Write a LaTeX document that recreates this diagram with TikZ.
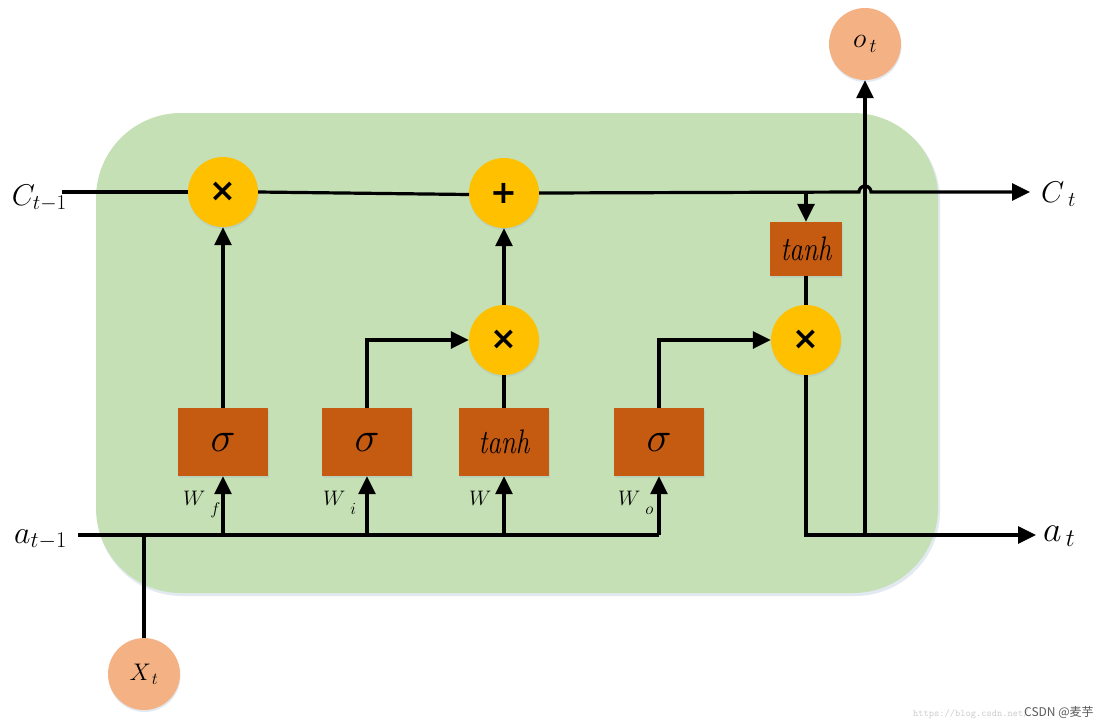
\RequirePackage{fix-cm}
\documentclass[tikz,border=0pt]{standalone}
\usepackage{fontspec}
\usepackage{graphicx}
\usetikzlibrary{arrows.meta,shadows,calc}
\newfontfamily\djv{DejaVu Sans}
\newfontfamily\cjkf{Noto Sans CJK SC}
\definecolor{cellgreen}{HTML}{C5E0B4}
\definecolor{gateyellow}{HTML}{FFC000}
\definecolor{boxorange}{HTML}{C55A11}
\definecolor{ioorange}{HTML}{F4B183}
\definecolor{shadowblue}{HTML}{9FB6CD}
\newcommand{\fs}[1]{\fontsize{#1}{#1}\selectfont}
\newcommand{\tanhtxt}{\scalebox{0.8}[1]{\fs{34}\itshape tanh}}
\newcommand{\wlab}[1]{\fs{21}$W$\hspace{5pt}\raisebox{-9pt}{\fs{17}$#1$}}
\begin{document}
\begin{tikzpicture}[x=1pt,y=-1pt,
  softshadow/.style={drop shadow={shadow xshift=0.5pt,shadow yshift=-2pt,opacity=0.3,fill=shadowblue}},
  op/.style={circle,fill=gateyellow,minimum size=70pt,inner sep=0pt,softshadow,font=\djv\bfseries\fs{32}},
  act/.style={rectangle,fill=boxorange,minimum width=90pt,minimum height=68pt,inner sep=0pt,softshadow},
  io/.style={circle,fill=ioorange,minimum size=72pt,inner sep=0pt,softshadow},
  wire/.style={line width=3.2pt,black},
  arr/.style={wire,-{Triangle[length=18pt,width=17pt]}},
  lbl/.style={inner sep=0pt},
]
\useasboundingbox (0,0) rectangle (1107,724);
% cell background
\fill[shadowblue,opacity=0.3,rounded corners=85pt] (97,115) rectangle (940,596);
\fill[cellgreen,rounded corners=85pt] (96,113) rectangle (938,593);

% operators
\node[op] (f) at (223,192) {×};
\node[op] (plus) at (504,193) {+};
\node[op] (im) at (504,340) {×};
\node[op] (om) at (806,340) {×};

% activation boxes
\node[act] (sf) at (223,442) {\fs{42}$\sigma$};
\node[act] (si) at (367,442) {\fs{42}$\sigma$};
\node[act] (tg) at (504,442) {\tanhtxt};
\node[act] (so) at (659,442) {\fs{42}$\sigma$};
\node[act,minimum width=72pt,minimum height=54pt] (tc) at (806,249) {\tanhtxt};

% inputs / outputs
\node[io] (o) at (865,44) {\fs{28}$o_{\,t}$};
\node[io] (x) at (144,674) {\fs{24}$X_{\,t}$};

% side labels
\node[lbl,anchor=base east] (clab) at (67,205) {\fs{30}$C_{t-1}$};
\node[lbl,anchor=base west] (ctlab) at (1041,202) {\fs{30}$C_{\;t}$};
\node[lbl,anchor=base east] (alab) at (67,543) {\fs{32}$a_{t-1}$};
\node[lbl,anchor=base west] (atlab) at (1043,541) {\fs{36}$a_{\,t}$};

% weight labels
\node[lbl,anchor=base west] (wf) at (183,505) {\wlab{f}};
\node[lbl,anchor=base west] (wi) at (323,505) {\wlab{i}};
\node[lbl,anchor=base west] (ww) at (469,505) {\fs{21}$W$};
\node[lbl,anchor=base west] (wo) at (618,505) {\wlab{o}};

% coordinates
\coordinate (cin) at (62,192);
\coordinate (cout) at (1030,192);
\coordinate (pw) at (469,194.5);
\coordinate (tap) at (806,192);
\coordinate (hop) at (859,192);
\coordinate (ain) at (78,535);
\coordinate (aend) at (659,535);
\coordinate (aout) at (1036,535);
\coordinate (ojoin) at (865,535);

% cell state line
\draw[wire] (cin) -- (f.west);
\draw[wire] (f.east) -- (pw);
\draw[arr] (plus.east) -- (hop) arc (180:360:6) -- (cout);
\draw[arr] (tap) -- (tc.north);
\draw[wire] (tc.south) -- (om.north);

% hidden state line
\draw[wire] (ain) -- (aend);
\draw[wire] (x.north) -- (x.north |- ain);
\draw[arr] (sf.south |- ain) -- (sf.south);
\draw[arr] (si.south |- ain) -- (si.south);
\draw[arr] (tg.south |- ain) -- (tg.south);
\draw[arr] (so.south |- ain) -- (so.south);

% gates
\draw[arr] (sf.north) -- (f.south);
\draw[arr] (si.north) |- (im.west);
\draw[wire] (tg.north) -- (im.south);
\draw[arr] (im.north) -- (plus.south);
\draw[arr] (so.north) |- (om.west);

% output
\draw[arr] (om.south) |- (aout);
\draw[arr] (ojoin) -- (o.south);

% watermark
\node[lbl,anchor=base west,text=black!20] (url) at (913,716) {\ttfamily\fs{10}https://blog.csdn.net/};
\node[lbl,anchor=base west,text=black!65] (wm) at (1024,716) {\cjkf\fs{12}CSDN @麦芋};
\end{tikzpicture}
\end{document}
